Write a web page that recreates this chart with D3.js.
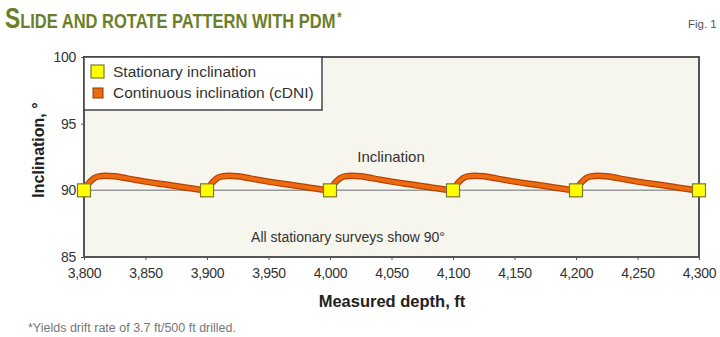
<!DOCTYPE html>
<html><head><meta charset="utf-8">
<script src="https://cdn.jsdelivr.net/npm/d3@7/dist/d3.min.js"></script>
<style>body{margin:0;background:#fff}svg{display:block}</style>
</head><body><svg id="c" width="720" height="337"></svg>
<script>
// Data
const surveyDepths = [3800, 3900, 4000, 4100, 4200, 4300];
const surveyIncl = [90, 90, 90, 90, 90, 90];
const cdniDepths = [
 3800,3802,3805,3808,3812,3818,3825,3835,3850,3865,3880,3895,3900,
 3902,3905,3908,3912,3918,3925,3935,3950,3965,3980,3995,4000,
 4002,4005,4008,4012,4018,4025,4035,4050,4065,4080,4095,4100,
 4102,4105,4108,4112,4118,4125,4135,4150,4165,4180,4195,4200,
 4202,4205,4208,4212,4218,4225,4235,4250,4265,4280,4295,4300];
const cdniIncl = [
 90,90.3,90.65,90.9,91.05,91.1,91.05,90.9,90.65,90.45,90.25,90.05,90,
 90.3,90.65,90.9,91.05,91.1,91.05,90.9,90.65,90.45,90.25,90.05,90,
 90.3,90.65,90.9,91.05,91.1,91.05,90.9,90.65,90.45,90.25,90.05,90,
 90.3,90.65,90.9,91.05,91.1,91.05,90.9,90.65,90.45,90.25,90.05,90,
 90.3,90.65,90.9,91.05,91.1,91.05,90.9,90.65,90.45,90.25,90.05,90];
const xTicks = [3800,3850,3900,3950,4000,4050,4100,4150,4200,4250,4300];
const yTicks = [85,90,95,100];
const legendLabels = ["Stationary inclination","Continuous inclination (cDNI)"];
const titleParts = ["S","LIDE AND ROTATE PATTERN WITH PDM","*"];

const cdni = cdniDepths.map((d,i)=>({d, v: cdniIncl[i]}));

const svg = d3.select("#c");
const L = 84, R = 699, T = 57, B = 257;
const x = d3.scaleLinear().domain([3800,4300]).range([L,R]);
const y = d3.scaleLinear().domain([85,100]).range([B,T]);
const font = "'Liberation Sans',Arial,sans-serif";

// title: pieces placed side by side, then the group is condensed horizontally
const tcol = "#6c7e2a";
const tg = svg.append("g");
const tSizes = [29, 21, 14], tDy = [0, 0, -6];
let cx = 0;
titleParts.forEach((t,i)=>{
  const el = tg.append("text").attr("x",cx).attr("y",tDy[i]).attr("fill",tcol).attr("font-family",font)
    .attr("font-weight","bold").attr("font-size",tSizes[i]).text(t);
  cx += el.node().getComputedTextLength() + (i===0 ? 0 : 2);
});
const sx = 338 / cx;
tg.attr("transform",`translate(5,28) scale(${sx},1)`);

svg.append("text").attr("x",688).attr("y",28).attr("font-family",font)
 .attr("font-size",11.5).attr("fill","#555").text("Fig. 1");

// plot bg
svg.append("rect").attr("x",L).attr("y",T).attr("width",R-L).attr("height",B-T).attr("fill","#f6f5ee");

// 90 reference line
svg.append("line").attr("x1",L).attr("x2",R).attr("y1",y(90)).attr("y2",y(90))
 .attr("stroke","#9a9a9a").attr("stroke-width",1.5);

// axes
const xAxis = svg.append("g").attr("transform",`translate(0,${B})`)
 .call(d3.axisBottom(x).tickValues(xTicks).tickFormat(d3.format(",")).tickSize(3).tickPadding(8));
const yAxis = svg.append("g").attr("transform",`translate(${L},0)`)
 .call(d3.axisLeft(y).tickValues(yTicks).tickSize(3).tickPadding(5));
[xAxis,yAxis].forEach(g=>{
  g.select(".domain").remove();
  g.selectAll("line").attr("stroke","#555");
  g.selectAll("text").attr("font-family",font).attr("font-size",14).attr("fill","#333").attr("letter-spacing",-0.3);
});

// frame
svg.append("rect").attr("x",L).attr("y",T).attr("width",R-L).attr("height",B-T)
 .attr("fill","none").attr("stroke","#555").attr("stroke-width",2);

// line
const line = d3.line().x(d=>x(d.d)).y(d=>y(d.v)).curve(d3.curveMonotoneX);
svg.append("path").datum(cdni).attr("d",line).attr("fill","none")
 .attr("stroke","#b84000").attr("stroke-width",6.5).attr("stroke-linejoin","round");
svg.append("path").datum(cdni).attr("d",line).attr("fill","none")
 .attr("stroke","#ec6a10").attr("stroke-width",4).attr("stroke-linejoin","round");

// squares
const sq = 13;
svg.selectAll("rect.s").data(surveyDepths).join("rect").attr("class","s")
 .attr("x",(d)=>x(d)-sq/2).attr("y",(d,i)=>y(surveyIncl[i])-sq/2)
 .attr("width",sq).attr("height",sq).attr("fill","#ffff00").attr("stroke","#7a7a2a").attr("stroke-width",1.2);

// legend
svg.append("rect").attr("x",L).attr("y",T).attr("width",238).attr("height",53)
 .attr("fill","#fff").attr("stroke","#444").attr("stroke-width",1.5);
svg.append("rect").attr("x",91).attr("y",65).attr("width",13).attr("height",13)
 .attr("fill","#ffff00").attr("stroke","#7a7a2a").attr("stroke-width",1.2);
svg.append("rect").attr("x",93).attr("y",88).attr("width",10).attr("height",10)
 .attr("fill","#ec6a10").attr("stroke","#8a3a10").attr("stroke-width",1);
legendLabels.forEach((t,i)=>{
  svg.append("text").attr("x",113).attr("y",77+i*21).attr("font-family",font)
   .attr("font-size",15.5).attr("fill","#333").text(t);
});

// annotations
svg.append("text").attr("x",391).attr("y",162).attr("text-anchor","middle").attr("font-family",font)
 .attr("font-size",15).attr("fill","#333").text("Inclination");
svg.append("text").attr("x",348).attr("y",242).attr("text-anchor","middle").attr("font-family",font)
 .attr("font-size",14).attr("fill","#333").text("All stationary surveys show 90°");

// axis titles
svg.append("text").attr("x",392).attr("y",307).attr("text-anchor","middle").attr("font-family",font)
 .attr("font-size",16.5).attr("font-weight","bold").attr("fill","#222").text("Measured depth, ft");
svg.append("text").attr("transform","translate(44,150) rotate(-90)").attr("text-anchor","middle")
 .attr("font-family",font).attr("font-size",16).attr("font-weight","bold").attr("fill","#222").text("Inclination, °");

// footnote
svg.append("text").attr("x",28).attr("y",332).attr("font-family",font)
 .attr("font-size",12.5).attr("fill","#777").text("*Yields drift rate of 3.7 ft/500 ft drilled.");
</script></body></html>
